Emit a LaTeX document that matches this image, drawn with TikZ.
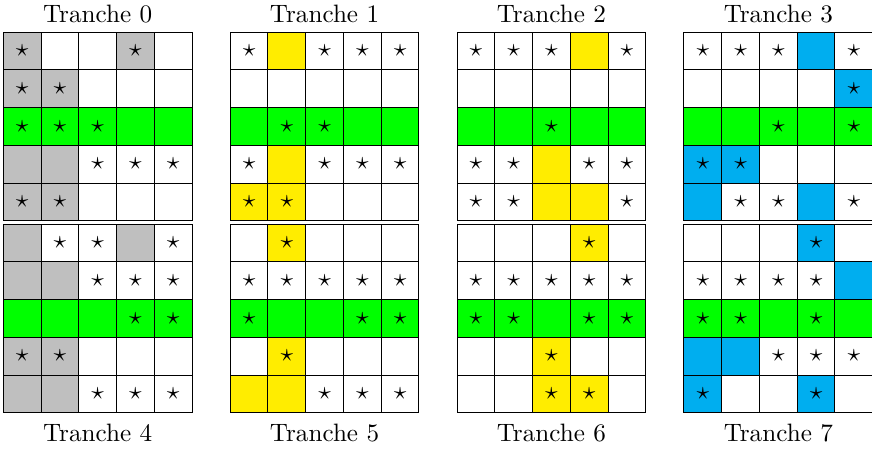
\documentclass[tikz,border=0pt]{standalone}
\definecolor{cgray}{RGB}{191,191,191}
\definecolor{cgreen}{RGB}{0,255,0}
\definecolor{cyel}{RGB}{255,237,0}
\definecolor{cblue}{RGB}{0,174,239}
\tikzset{
  cell/.style={draw=black, line width=0.4pt, minimum size=15pt, inner sep=0pt, outer sep=0pt, anchor=north west},
  st/.style={label={center:$\star$}},
  wn/.style={fill=white}, ws/.style={fill=white, st},
  gn/.style={fill=cgray}, gs/.style={fill=cgray, st},
  en/.style={fill=cgreen}, es/.style={fill=cgreen, st},
  yn/.style={fill=cyel}, ys/.style={fill=cyel, st},
  bn/.style={fill=cblue}, bs/.style={fill=cblue, st},
  title/.style={anchor=base, inner sep=0pt, font=\fontsize{10}{12}\selectfont}
}
\newcommand\tgrid[4]{%
  \foreach \code [count=\i from 0] in {#4} {
    \pgfmathtruncatemacro\rr{div(\i,5)}
    \pgfmathtruncatemacro\cc{mod(\i,5)}
    \node[cell,\code] (#1-\rr-\cc) at ({#2+\cc},{#3-\rr}) {};
  }}
\begin{document}
\begin{tikzpicture}[x=15pt,y=15pt]
\useasboundingbox (0,0) rectangle (23.099,-11.894);
% top row of grids
\tgrid{t0}{0.087}{-0.848}{gs,wn,wn,gs,wn, gs,gs,wn,wn,wn, es,es,es,en,en, gn,gn,ws,ws,ws, gs,gs,wn,wn,wn}
\tgrid{t1}{6.097}{-0.848}{ws,yn,ws,ws,ws, wn,wn,wn,wn,wn, en,es,es,en,en, ws,yn,ws,ws,ws, ys,ys,wn,wn,wn}
\tgrid{t2}{12.107}{-0.848}{ws,ws,ws,yn,ws, wn,wn,wn,wn,wn, en,en,es,en,en, ws,ws,yn,ws,ws, ws,ws,yn,yn,ws}
\tgrid{t3}{18.117}{-0.848}{ws,ws,ws,bn,ws, wn,wn,wn,wn,bs, en,en,es,en,es, bs,bs,wn,wn,wn, bn,ws,ws,bn,ws}
% bottom row of grids
\tgrid{t4}{0.087}{-5.934}{gn,ws,ws,gn,ws, gn,gn,ws,ws,ws, en,en,en,es,es, gs,gs,wn,wn,wn, gn,gn,ws,ws,ws}
\tgrid{t5}{6.097}{-5.934}{wn,ys,wn,wn,wn, ws,ws,ws,ws,ws, es,en,en,es,es, wn,ys,wn,wn,wn, yn,yn,ws,ws,ws}
\tgrid{t6}{12.107}{-5.934}{wn,wn,wn,ys,wn, ws,ws,ws,ws,ws, es,es,en,es,es, wn,wn,ys,wn,wn, wn,wn,ys,ys,wn}
\tgrid{t7}{18.117}{-5.934}{wn,wn,wn,bs,wn, ws,ws,ws,ws,bn, es,es,en,es,en, bn,bn,ws,ws,ws, bs,wn,wn,bs,wn}
% titles
\node[title] (l0) at (2.587,-0.583) {Tranche 0};
\node[title] (l1) at (8.597,-0.583) {Tranche 1};
\node[title] (l2) at (14.607,-0.583) {Tranche 2};
\node[title] (l3) at (20.617,-0.583) {Tranche 3};
\node[title] (l4) at (2.587,-11.70) {Tranche 4};
\node[title] (l5) at (8.597,-11.70) {Tranche 5};
\node[title] (l6) at (14.607,-11.70) {Tranche 6};
\node[title] (l7) at (20.617,-11.70) {Tranche 7};
\end{tikzpicture}
\end{document}
